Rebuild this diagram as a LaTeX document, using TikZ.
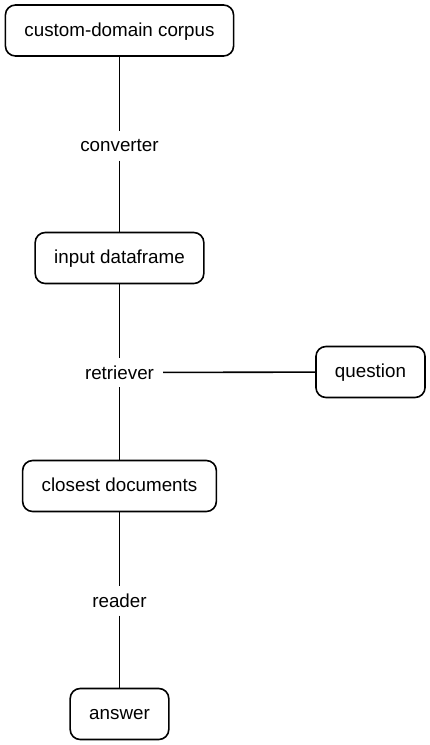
\documentclass[tikz,border=0pt]{standalone}
\usepackage{fontspec}
\setmainfont{Liberation Sans}
\usepackage{tikz}
\usetikzlibrary{positioning}

\begin{document}
\begin{tikzpicture}[x=1pt, y=-1pt,
    font=\fontsize{18.8}{22}\selectfont,
    stage/.style={draw, line width=1.6pt, rounded corners=10pt,
      inner xsep=19pt, inner ysep=0pt, minimum height=51pt,
      text height=13pt, text depth=2pt},
    tool/.style={inner xsep=9pt, inner ysep=0pt, minimum height=29pt},
    link/.style={line width=1.6pt}]
  \useasboundingbox (0,0) rectangle (429,745);

  % Main pipeline, top to bottom
  \node[stage] (corpus) at (119.5,30.5) {custom-domain corpus};
  \node[tool] (converter) at (119.5,146) {converter};
  \node[stage] (frame) at (119.5,258) {input dataframe};
  \node[tool] (retriever) at (119.5,372.5) {retriever};
  \node[stage] (closest) at (119.5,486) {closest documents};
  \node[tool] (reader) at (119.5,601) {reader};
  \node[stage] (answer) at (119.5,714) {answer};

  % Side input
  \node[stage] (question) at (370.5,372) {question};

  % Connectors
  \draw[link] (corpus) -- (converter) -- (frame);
  \draw[link] (frame) -- (retriever) -- (closest);
  \draw[link] (closest) -- (reader) -- (answer);
  \draw[link] (question) -- (retriever);
\end{tikzpicture}
\end{document}
